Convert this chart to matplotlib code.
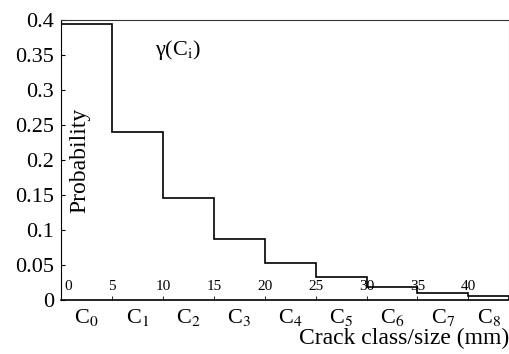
import matplotlib.pyplot as plt

# crack size class edges (mm) and probability of each class
edges = [0, 5, 10, 15, 20, 25, 30, 35, 40, 44]
probs = [0.394, 0.240, 0.146, 0.088, 0.053, 0.033, 0.019, 0.010, 0.006]
classes = ["C$_{%d}$" % i for i in range(9)]
size_ticks = [0, 5, 10, 15, 20, 25, 30, 35, 40]
yticks = [0, 0.05, 0.1, 0.15, 0.2, 0.25, 0.3, 0.35, 0.4]

plt.rcParams['font.family'] = ['Liberation Serif', 'DejaVu Serif']
plt.rcParams['mathtext.fontset'] = 'stix'

fig = plt.figure(figsize=(5.1, 3.54), dpi=100)
ax = fig.add_axes([0.12, 0.152, 0.878, 0.792])

ax.stairs(probs, edges, color='black', lw=1.2)

ax.set_xlim(0, 44)
ax.set_ylim(0, 0.4)

ax.set_yticks(yticks)
ax.set_yticklabels(["0", "0.05", "0.1", "0.15", "0.2", "0.25", "0.3", "0.35", "0.4"])
ax.tick_params(axis='y', direction='in', length=3, labelsize=16, pad=5)

mids = [(edges[i] + edges[i + 1]) / 2 for i in range(len(probs))]
ax.set_xticks(mids)
ax.set_xticklabels(classes)
ax.tick_params(axis='x', which='major', length=0, labelsize=16, pad=5)
ax.set_xticks(size_ticks, minor=True)
ax.tick_params(axis='x', which='minor', direction='in', length=3)

for s in size_ticks:
    ax.text(s + (0.3 if s == 0 else 0), 0.01, str(s), fontsize=11,
            ha='left' if s == 0 else 'center', va='bottom')

ax.text(1.8, 0.2, "Probability", rotation=90, fontsize=17, ha='center', va='center')
ax.text(9.2, 0.357, "γ(C$_\\mathrm{i}$)", fontsize=16, ha='left', va='center')

fig.text(0.998, 0.015, "Crack class/size (mm)", fontsize=17, ha='right', va='bottom')

ax.spines['top'].set_color('#333333')
ax.spines['right'].set_color('#999999')
ax.spines['left'].set_color('black')
ax.spines['bottom'].set_color('black')
ax.spines['bottom'].set_linewidth(1.2)

fig.savefig("out.png", dpi=100)
